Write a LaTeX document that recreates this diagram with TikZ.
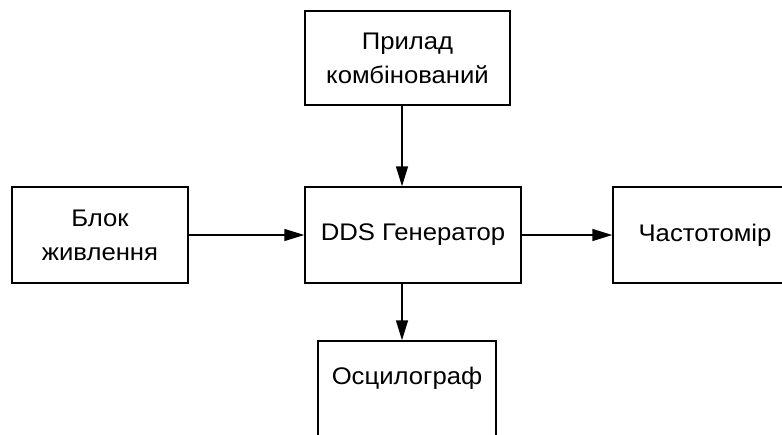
\documentclass[tikz,border=0pt]{standalone}
\usepackage{fontspec}
\setmainfont{Liberation Sans}[FakeStretch=1.07]
\usetikzlibrary{arrows.meta,calc}
\begin{document}
\begin{tikzpicture}[x=1pt,y=-1pt,
  box/.style={draw=black, line width=1.5pt, fill=white, rectangle, align=center, inner sep=0pt,
    font=\fontsize{24}{34}\selectfont},
  arr/.style={draw=black, line width=1.5pt, -{Triangle[length=20pt,width=12pt]}},
  lbl/.style={font=\fontsize{24}{34}\selectfont, inner sep=0pt}]
\useasboundingbox (0,0) rectangle (782,434);
\clip (0,0) rectangle (782,434);
\fill[white] (0,0) rectangle (782,434);
\node[box, minimum width=205pt, minimum height=94pt] (top) at (407.5,58) {Прилад\\комбінований};
\node[box, minimum width=176pt, minimum height=96pt] (blk) at (100,235) {Блок\\живлення};
\node[box, minimum width=216pt, minimum height=96pt] (gen) at (413,235) {DDS Генератор};
\node[box, minimum width=184pt, minimum height=96pt] (frq) at (705,235) {Частотомір};
\node[box, minimum width=178pt, minimum height=110pt] (osc) at (407,396) {};
\node[lbl] (osct) at ($(osc.north)+(0,38)$) {Осцилограф};
\coordinate (ax) at (402,0);
\draw[arr] (top.south -| ax) -- (gen.north -| ax);
\draw[arr] (gen.south -| ax) -- (osc.north -| ax);
\draw[arr] (blk.east) -- (gen.west);
\draw[arr] (gen.east) -- (frq.west);
\end{tikzpicture}
\end{document}
